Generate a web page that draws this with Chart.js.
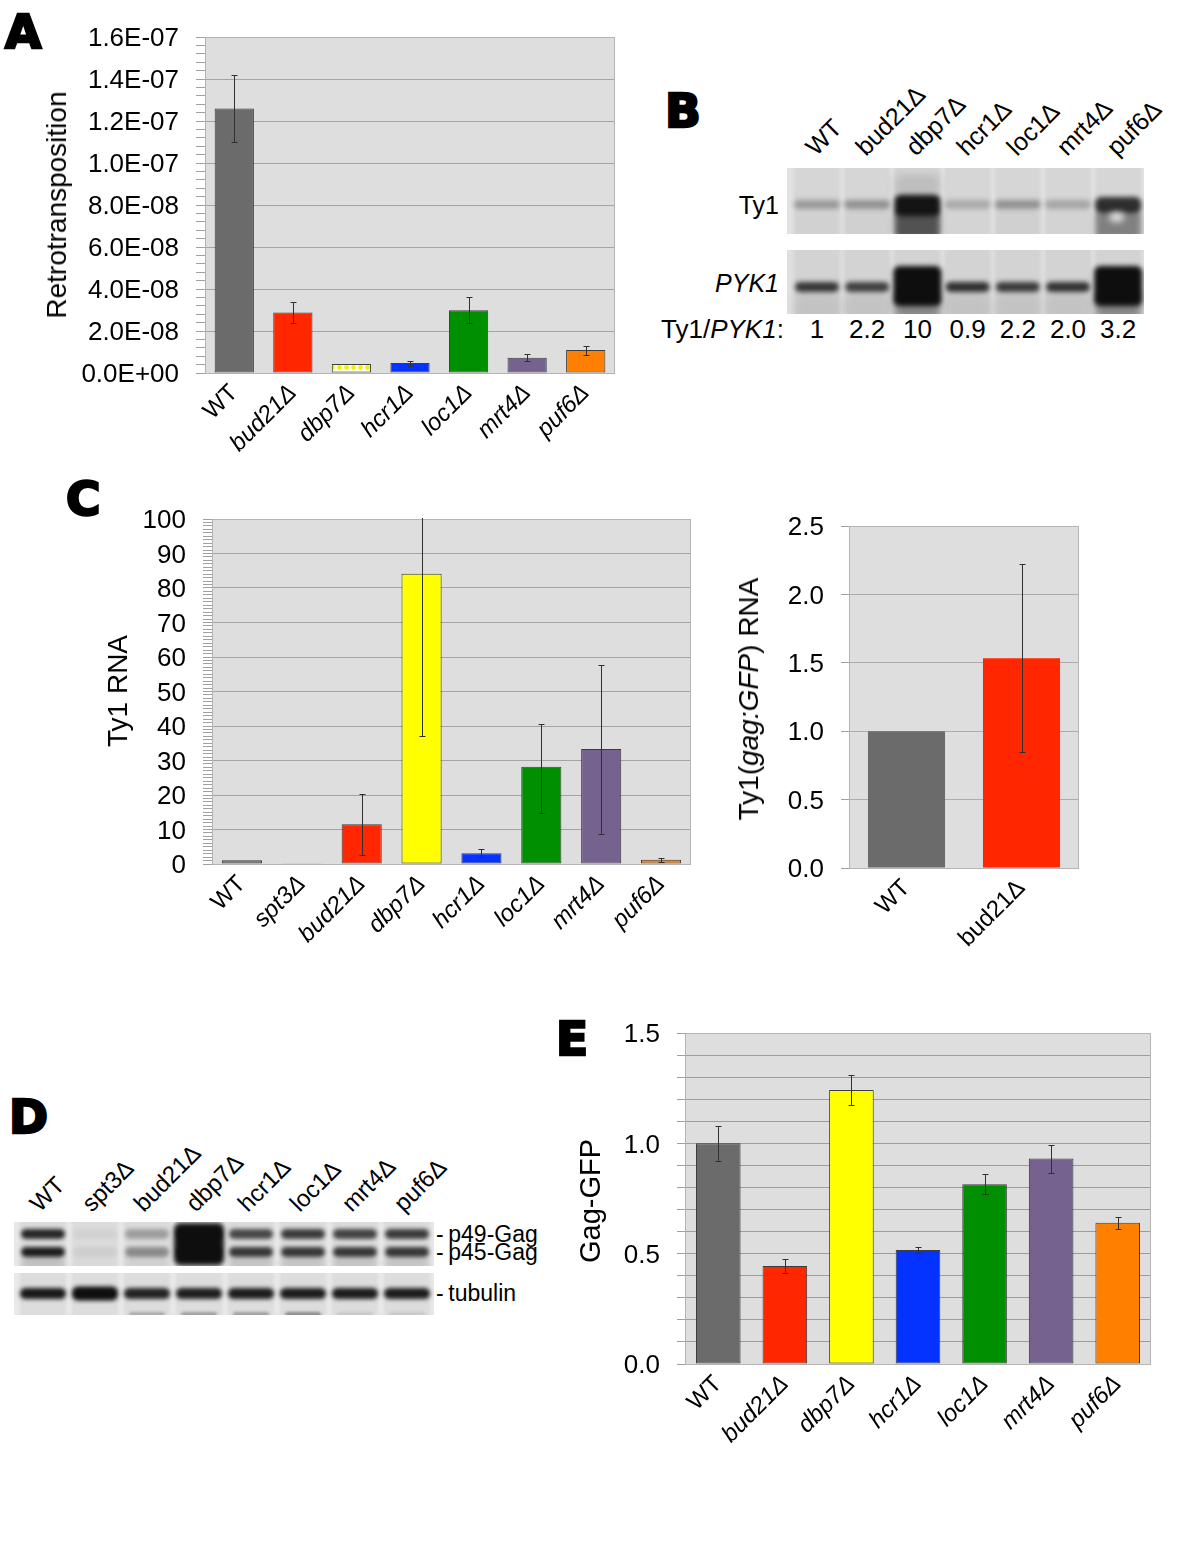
<!DOCTYPE html>
<html>
<head>
<meta charset="utf-8">
<script src="https://cdn.jsdelivr.net/npm/chart.js@4.4.1/dist/chart.umd.min.js"></script>
<style>
  body { margin: 0; background: #fff; }
  #page { position: relative; width: 1200px; height: 1541px; overflow: hidden; background: #fff;
          font-family: "Liberation Sans", Arial, sans-serif; color: #000; }
  #page canvas { position: absolute; }
  .t { position: absolute; white-space: nowrap; line-height: 1; }
  .letter { font-family: "DejaVu Sans", sans-serif; font-weight: bold; -webkit-text-stroke: 2.5px #000; }
</style>
</head>
<body>
<div id="page">
  <canvas id="chartA" width="640" height="470" style="left:0;top:0"></canvas>
  <canvas id="blotTy1" width="357" height="66" style="left:787px;top:168px"></canvas>
  <canvas id="blotPyk1" width="357" height="64" style="left:787px;top:250px"></canvas>
  <canvas id="chartC1" width="700" height="480" style="left:0;top:480px"></canvas>
  <canvas id="chartC2" width="400" height="480" style="left:700px;top:480px"></canvas>
  <canvas id="blotGag" width="420" height="44" style="left:14px;top:1222px"></canvas>
  <canvas id="blotTub" width="420" height="42" style="left:14px;top:1273px"></canvas>
  <canvas id="chartE" width="620" height="470" style="left:560px;top:990px"></canvas>
</div>
<script>
// ---- Panel A: retrotransposition ----
const strainsA = ['WT', 'bud21Δ', 'dbp7Δ', 'hcr1Δ', 'loc1Δ', 'mrt4Δ', 'puf6Δ'];
const retroMean = [1.26e-7, 2.88e-8, 4.3e-9, 4.8e-9, 2.99e-8, 7.3e-9, 1.1e-8];
const retroLow  = [1.10e-7, 2.39e-8, null, 3.3e-9, 2.39e-8, 5.6e-9, 8.8e-9];
const retroHigh = [1.42e-7, 3.39e-8, null, 5.9e-9, 3.6e-8, 9.1e-9, 1.29e-8];
const retroTicks = ['0.0E+00', '2.0E-08', '4.0E-08', '6.0E-08', '8.0E-08', '1.0E-07', '1.2E-07', '1.4E-07', '1.6E-07'];

// ---- Panel B: Ty1 / PYK1 northern ----
const lanesB = ['WT', 'bud21Δ', 'dbp7Δ', 'hcr1Δ', 'loc1Δ', 'mrt4Δ', 'puf6Δ'];
const ty1Signal = [0.3, 0.34, 0.97, 0.22, 0.34, 0.24, 0.84];
const pyk1Signal = [0.8, 0.75, 1, 0.84, 0.78, 0.82, 1];
const ty1PykRatio = ['1', '2.2', '10', '0.9', '2.2', '2.0', '3.2'];

// ---- Panel C: Ty1 RNA ----
const strainsC = ['WT', 'spt3Δ', 'bud21Δ', 'dbp7Δ', 'hcr1Δ', 'loc1Δ', 'mrt4Δ', 'puf6Δ'];
const ty1Rna     = [1.1, 0.25, 11.5, 84.1, 3.1, 28.2, 33.3, 1.2];
const ty1RnaLow  = [null, null, 2.6, 37.2, 1.9, 14.7, 8.6, 0.6];
const ty1RnaHigh = [null, null, 20.2, 131, 4.3, 40.5, 57.7, 1.8];
const ty1RnaTicks = ['0', '10', '20', '30', '40', '50', '60', '70', '80', '90', '100'];

const strainsGfp = ['WT', 'bud21Δ'];
const gfpRna     = [1.0, 1.534];
const gfpRnaLow  = [null, 0.847];
const gfpRnaHigh = [null, 2.225];
const gfpRnaTicks = ['0.0', '0.5', '1.0', '1.5', '2.0', '2.5'];

// ---- Panel D: Gag western ----
const lanesD = ['WT', 'spt3Δ', 'bud21Δ', 'dbp7Δ', 'hcr1Δ', 'loc1Δ', 'mrt4Δ', 'puf6Δ'];
const p49Signal = [0.88, 0.05, 0.3, 1, 0.72, 0.78, 0.74, 0.78];
const p45Signal = [0.92, 0.07, 0.4, 1, 0.8, 0.8, 0.8, 0.8];
const tubulinSignal = [0.95, 1, 0.9, 0.92, 0.93, 0.93, 0.93, 0.93];
const lowerBandSignal = [0, 0, 0.25, 0.3, 0.3, 0.4, 0.1, 0.1];

// ---- Panel E: Gag-GFP ----
const strainsE = ['WT', 'bud21Δ', 'dbp7Δ', 'hcr1Δ', 'loc1Δ', 'mrt4Δ', 'puf6Δ'];
const gagGfp     = [1.0, 0.444, 1.242, 0.517, 0.815, 0.931, 0.64];
const gagGfpLow  = [0.92, 0.414, 1.175, 0.502, 0.77, 0.867, 0.611];
const gagGfpHigh = [1.08, 0.474, 1.31, 0.529, 0.86, 0.994, 0.667];
const gagTicks = ['0.0', '0.5', '1.0', '1.5'];

// ---- colours ----
const GRAY = '#6b6b6b', RED = '#ff2600', YELLOW = '#ffff00', BLUE = '#0433ff',
      GREEN = '#008f00', PURPLE = '#76628f', ORANGE = '#ff8000';
const FONT = '"Liberation Sans", Arial, sans-serif';

Chart.defaults.font.family = FONT;
Chart.defaults.color = '#000';

function dotPattern() {
    const c = document.createElement('canvas');
    c.width = 7; c.height = 7;
    const g = c.getContext('2d');
    g.fillStyle = '#ffffe6';
    g.fillRect(0, 0, 7, 7);
    g.fillStyle = '#f2f200';
    g.beginPath();
    g.arc(3.5, 3.5, 2.4, 0, Math.PI * 2);
    g.fill();
    return g.createPattern(c, 'repeat');
}

// plot background + frame
const plotBackground = {
    id: 'plotBackground',
    beforeDraw(chart) {
        const { ctx, chartArea: a } = chart;
        ctx.save();
        ctx.fillStyle = '#dedede';
        ctx.fillRect(a.left, a.top, a.width, a.height);
        ctx.restore();
    },
    beforeDatasetsDraw(chart) {
        const { ctx, chartArea: a } = chart;
        ctx.save();
        ctx.strokeStyle = '#b4b4b4';
        ctx.lineWidth = 1;
        ctx.strokeRect(Math.round(a.left) + 0.5, Math.round(a.top) + 0.5, Math.round(a.width) - 1, Math.round(a.height));
        ctx.restore();
    }
};

// error bars read from plugin options, placed through the chart scales
const errorBars = {
    id: 'errorBars',
    afterDatasetsDraw(chart, args, opts) {
        const { ctx, chartArea: a, scales: { x, y } } = chart;
        ctx.save();
        ctx.beginPath();
        ctx.rect(a.left, a.top - 1, a.width, a.height + 1);
        ctx.clip();
        ctx.strokeStyle = '#303030';
        ctx.lineWidth = 1;
        opts.low.forEach((lo, i) => {
            if (lo == null) return;
            const px = Math.round(x.getPixelForValue(i)) + 0.5;
            const y1 = Math.round(y.getPixelForValue(lo)) + 0.5;
            const y2 = Math.round(y.getPixelForValue(opts.high[i])) + 0.5;
            ctx.beginPath();
            ctx.moveTo(px, y1); ctx.lineTo(px, y2);
            ctx.moveTo(px - 3, y1); ctx.lineTo(px + 3, y1);
            ctx.moveTo(px - 3, y2); ctx.lineTo(px + 3, y2);
            ctx.stroke();
        });
        ctx.restore();
    }
};

function barChart(id, cfg) {
    return new Chart(document.getElementById(id), {
        type: 'bar',
        data: {
            labels: cfg.labels,
            datasets: [{
                data: cfg.values,
                backgroundColor: cfg.colors,
                borderColor: cfg.border ? '#3c3c3c' : 'rgba(0,0,0,0)',
                borderWidth: cfg.border ? 1 : 0,
                borderSkipped: false,
                barPercentage: 0.67,
                categoryPercentage: 1
            }]
        },
        options: {
            responsive: false,
            animation: false,
            layout: { padding: cfg.pad },
            plugins: {
                legend: { display: false },
                tooltip: { enabled: false },
                errorBars: { low: cfg.low, high: cfg.high }
            },
            scales: {
                x: {
                    grid: { display: false, drawTicks: false },
                    border: { display: false },
                    ticks: {
                        autoSkip: false, minRotation: 45, maxRotation: 45, padding: 6, color: '#000',
                        font: c => ({ family: FONT, size: 24, style: (cfg.italic && c.index > 0) ? 'italic' : 'normal' })
                    },
                    afterFit: s => { s.height = cfg.xHeight; }
                },
                y: {
                    min: 0, max: cfg.max,
                    ticks: {
                        stepSize: cfg.step, autoSkip: false, padding: 17, labelOffset: 2, color: '#000',
                        font: { family: FONT, size: 26 },
                        callback: v => {
                            const k = Math.round(v / cfg.step);
                            return k % cfg.every === 0 ? cfg.tickLabels[k / cfg.every] : '';
                        }
                    },
                    grid: {
                        color: c => {
                            if (!c.tick) return 'rgba(0,0,0,0)';
                            const k = Math.round(c.tick.value / cfg.step);
                            return (k % cfg.gridEvery === 0) ? cfg.gridColor : 'rgba(0,0,0,0)';
                        },
                        tickColor: '#a0a0a0',
                        tickLength: cfg.tickLen,
                        lineWidth: 1
                    },
                    border: { color: '#9a9a9a' },
                    afterFit: s => { s.width = cfg.yWidth; }
                }
            }
        },
        plugins: [plotBackground, errorBars]
    });
}

// ---- charts ----
barChart('chartA', {
    labels: strainsA, values: retroMean, low: retroLow, high: retroHigh,
    colors: [GRAY, RED, dotPattern(), BLUE, GREEN, PURPLE, ORANGE], border: true, italic: true,
    max: 1.6e-7, step: 4e-9, every: 5, gridEvery: 5, tickLabels: retroTicks, tickLen: 9, gridColor: '#a4a4a4',
    pad: { top: 37, right: 25, bottom: 0, left: 0 }, yWidth: 205, xHeight: 97
});

barChart('chartC1', {
    labels: strainsC, values: ty1Rna, low: ty1RnaLow, high: ty1RnaHigh,
    colors: [GRAY, GRAY, RED, YELLOW, BLUE, GREEN, PURPLE, ORANGE], border: true, italic: true,
    max: 100, step: 1, every: 10, gridEvery: 10, tickLabels: ty1RnaTicks, tickLen: 9, gridColor: '#a4a4a4',
    pad: { top: 39, right: 9, bottom: 0, left: 0 }, yWidth: 212, xHeight: 96
});

barChart('chartC2', {
    labels: strainsGfp, values: gfpRna, low: gfpRnaLow, high: gfpRnaHigh,
    colors: [GRAY, RED], border: false, italic: false,
    max: 2.5, step: 0.5, every: 1, gridEvery: 1, tickLabels: gfpRnaTicks, tickLen: 8, gridColor: '#acacac',
    pad: { top: 46, right: 21, bottom: 0, left: 0 }, yWidth: 149, xHeight: 92
});

barChart('chartE', {
    labels: strainsE, values: gagGfp, low: gagGfpLow, high: gagGfpHigh,
    colors: [GRAY, RED, YELLOW, BLUE, GREEN, PURPLE, ORANGE], border: true, italic: true,
    max: 1.5, step: 0.1, every: 5, gridEvery: 1, tickLabels: gagTicks, tickLen: 8, gridColor: '#9c9c9c',
    pad: { top: 43, right: 29, bottom: 0, left: 0 }, yWidth: 125, xHeight: 96
});

// ---- blots ----
function softRect(g, x, y, w, h, color, blur) {
    g.save();
    g.filter = 'blur(' + blur + 'px)';
    g.fillStyle = color;
    g.beginPath();
    g.roundRect(x, y, w, h, Math.min(h / 2, 6));
    g.fill();
    g.restore();
}
function shade(a) { return 'rgba(14,14,14,' + Math.min(a, 1) + ')'; }

function blotBase(id, bg, laneCount, laneX) {
    const cv = document.getElementById(id);
    const g = cv.getContext('2d');
    g.fillStyle = bg;
    g.fillRect(0, 0, cv.width, cv.height);
    for (let i = 0; i < laneCount; i++) {
        softRect(g, laneX(i) - 23, -6, 46, cv.height + 12, 'rgba(0,0,0,0.05)', 1.5);
    }
    return g;
}

const laneB = i => 30 + 50.2 * i;
let g = blotBase('blotTy1', '#e2e2e2', lanesB.length, laneB);
ty1Signal.forEach((s, i) => {
    const cx = laneB(i), big = Math.pow(s, 4);
    softRect(g, cx - 23, 42, 46, 30, shade(Math.pow(s, 3) * 0.72), 3);
    softRect(g, cx - 23, 32 - big * 6, 46, 9 + big * 14, shade(s), 2.5);
    if (s > 0.9) softRect(g, cx - 23, 6, 46, 22, shade(0.12), 4);
});
softRect(g, laneB(6) - 9, 44, 15, 10, 'rgba(236,236,236,0.85)', 3);

g = blotBase('blotPyk1', '#dfdfdf', lanesB.length, laneB);
pyk1Signal.forEach((s, i) => {
    const cx = laneB(i), big = Math.max(0, s - 0.9) * 10;
    softRect(g, cx - 23, 44, 46, 26, shade(0.08 + big * 0.3), 4);
    softRect(g, cx - 22 - big * 2, 32 - big * 16, 44 + big * 4, 10 + big * 30, shade(s), 2.5);
});

const laneD = i => 29 + 52 * i;
g = blotBase('blotGag', '#e8e8e8', lanesD.length, laneD);
lanesD.forEach((_, i) => {
    const cx = laneD(i);
    softRect(g, cx - 22, 7, 44, 10, shade(p49Signal[i]), 2.2);
    softRect(g, cx - 22, 25, 44, 10, shade(p45Signal[i]), 2.2);
    softRect(g, cx - 22, 35, 44, 12, shade(p45Signal[i] * 0.15), 3);
    if (p49Signal[i] >= 1) softRect(g, cx - 25, 1, 50, 42, shade(1), 2.5);
});

g = blotBase('blotTub', '#e9e9e9', lanesD.length, laneD);
tubulinSignal.forEach((s, i) => {
    const cx = laneD(i), hi = s >= 1 ? 3 : 0;
    softRect(g, cx - 23, 15 - hi / 2, 46, 11 + hi, shade(s), 2);
    if (lowerBandSignal[i] > 0) softRect(g, cx - 18, 39, 36, 5, shade(lowerBandSignal[i]), 1.5);
});

// ---- text ----
const page = document.getElementById('page');
function addText(html, x, base, size, opts = {}) {
    const d = document.createElement('div');
    d.className = 't' + (opts.cls ? ' ' + opts.cls : '');
    d.innerHTML = html;
    d.style.fontSize = size + 'px';
    const asc = 0.8465 * size;
    d.style.top = (base - asc) + 'px';
    if (opts.align === 'right') d.style.right = (1200 - x) + 'px';
    else d.style.left = x + 'px';
    if (opts.align === 'center') d.style.transform = 'translateX(-50%)';
    if (opts.rotate) {
        d.style.transformOrigin = '0 ' + asc + 'px';
        d.style.transform = 'rotate(' + opts.rotate + 'deg)';
    }
    page.appendChild(d);
}
function addTitle(html, cx, cy, size) {
    const d = document.createElement('div');
    d.className = 't';
    d.innerHTML = html;
    d.style.fontSize = size + 'px';
    d.style.left = cx + 'px';
    d.style.top = cy + 'px';
    d.style.transform = 'translate(-50%,-50%) rotate(-90deg)';
    page.appendChild(d);
}

// panel letters
addText('A', 5, 48, 47, { cls: 'letter' });
addText('B', 665, 127, 47, { cls: 'letter' });
addText('C', 66, 515, 47, { cls: 'letter' });
addText('D', 9, 1133, 47, { cls: 'letter' });
addText('E', 556, 1055, 47, { cls: 'letter' });

// axis titles
addTitle('Retrotransposition', 57, 205, 28);
addTitle('Ty1 RNA', 118, 691, 28);
addTitle('Ty1(<i>gag:GFP</i>) RNA', 749, 699, 28);
addTitle('Gag-GFP', 590, 1201, 29);

// panel B labels
lanesB.forEach((name, i) => addText(name, 787 + laneB(i) - 1, 157, 25, { rotate: -45 }));
addText('Ty1', 779, 214, 25, { align: 'right' });
addText('<i>PYK1</i>', 779, 292, 25, { align: 'right' });
addText('Ty1/<i>PYK1</i>:', 661, 338, 26);
ty1PykRatio.forEach((r, i) => addText(r, 787 + laneB(i), 338, 26, { align: 'center' }));

// panel D labels
lanesD.forEach((name, i) => addText(name, 14 + laneD(i) - 3, 1213, 24, { rotate: -45 }));
addText('-\u2009p49-Gag', 436, 1242, 23);
addText('-\u2009p45-Gag', 436, 1260, 23);
addText('-\u2009tubulin', 436, 1301, 23);
</script>
</body>
</html>
